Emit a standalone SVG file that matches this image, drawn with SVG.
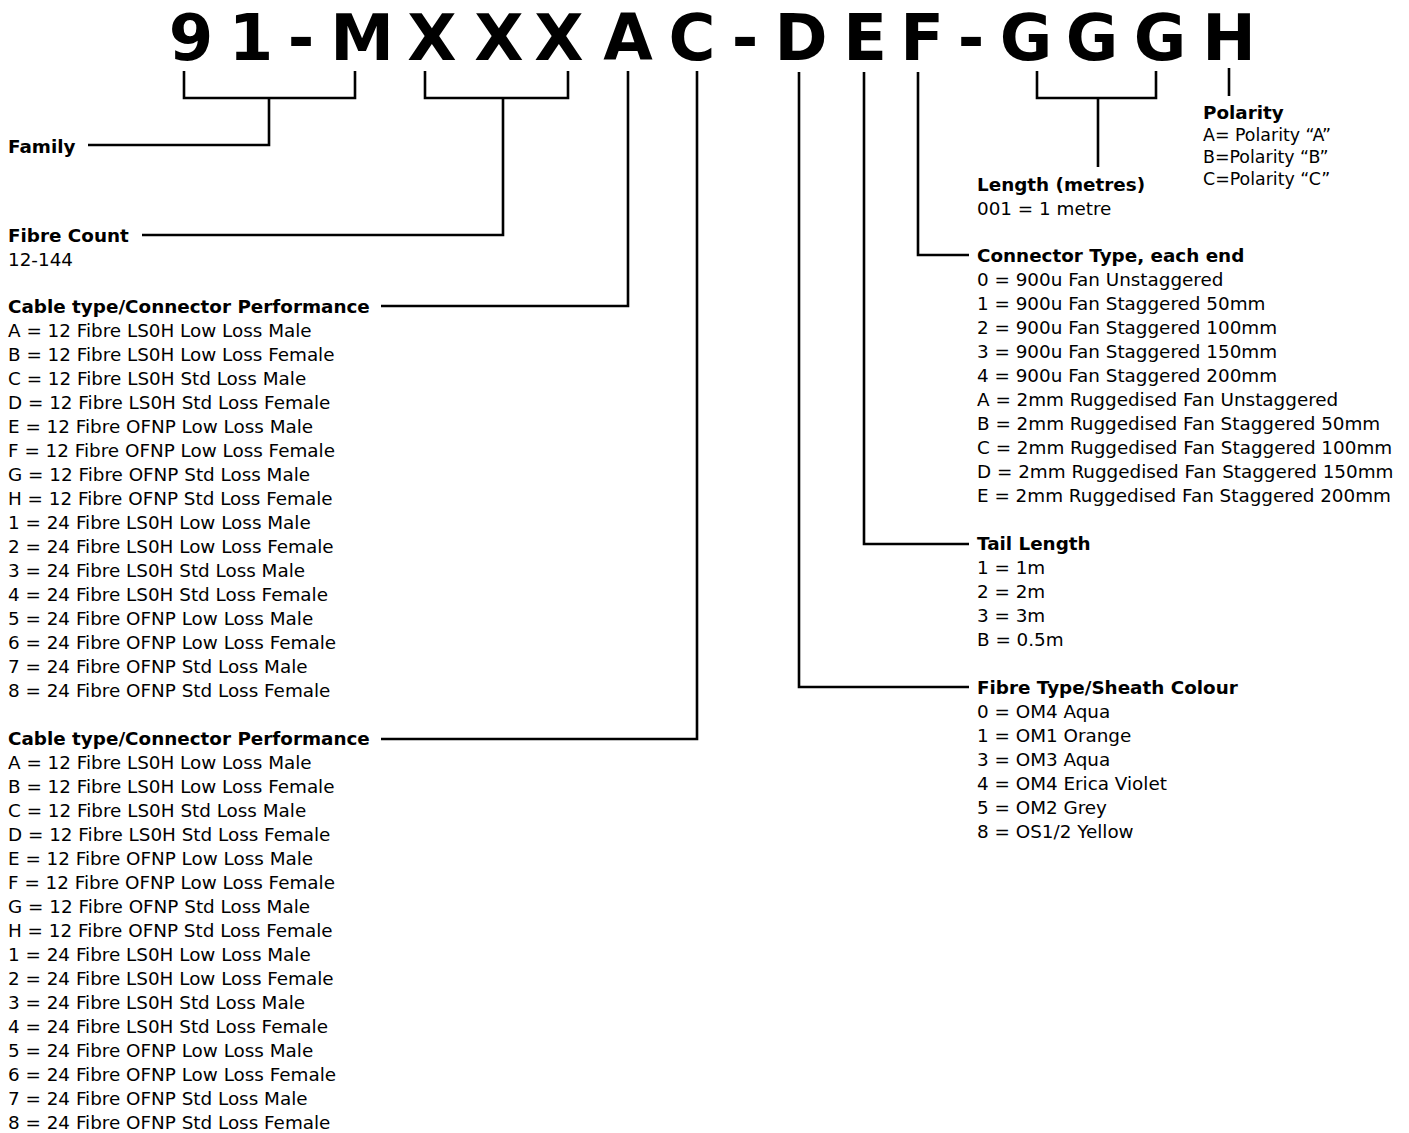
<svg xmlns="http://www.w3.org/2000/svg" width="1409" height="1133" viewBox="0 0 1409 1133">
<style>
text{font-family:"DejaVu Sans","Liberation Sans",sans-serif;font-size:18.35px;fill:#000}
.b{font-weight:bold}
.title{font-weight:bold;font-size:64px}
.pol{font-size:17.4px}
.c{fill:none;stroke:#000;stroke-width:2.6}
</style>
<rect width="1409" height="1133" fill="#fff"/>
<g id="code">
<text class="title" y="60" text-anchor="middle" x="191 251 301 362 432 499 559 628 692 745 801 865 922 971 1026 1092 1160 1229">91-MXXXAC-DEF-GGGH</text>
</g>
<g id="connectors">
<path class="c" d="M184,71V98H355V71M269,98V145H88"/>
<path class="c" d="M425,71V98H568V71M503,98V235H142"/>
<path class="c" d="M628,71V306H381"/>
<path class="c" d="M697,71V739H381"/>
<path class="c" d="M799,72V687H969"/>
<path class="c" d="M864,72V544H969"/>
<path class="c" d="M918,72V255H969"/>
<path class="c" d="M1037,71V98H1156V71M1098,98V167"/>
<path class="c" d="M1229,68V96"/>
</g>
<g id="family">
<text class="b" x="8" y="153">Family</text>
</g>
<g id="fibre-count">
<text class="b" x="8" y="242">Fibre Count</text>
<text x="8" y="266">12-144</text>
</g>
<g id="cable-type-1">
<text class="b" x="8" y="313">Cable type/Connector Performance</text>
<text x="8" y="313">
<tspan x="8" dy="24">A = 12 Fibre LS0H Low Loss Male</tspan>
<tspan x="8" dy="24">B = 12 Fibre LS0H Low Loss Female</tspan>
<tspan x="8" dy="24">C = 12 Fibre LS0H Std Loss Male</tspan>
<tspan x="8" dy="24">D = 12 Fibre LS0H Std Loss Female</tspan>
<tspan x="8" dy="24">E = 12 Fibre OFNP Low Loss Male</tspan>
<tspan x="8" dy="24">F = 12 Fibre OFNP Low Loss Female</tspan>
<tspan x="8" dy="24">G = 12 Fibre OFNP Std Loss Male</tspan>
<tspan x="8" dy="24">H = 12 Fibre OFNP Std Loss Female</tspan>
<tspan x="8" dy="24">1 = 24 Fibre LS0H Low Loss Male</tspan>
<tspan x="8" dy="24">2 = 24 Fibre LS0H Low Loss Female</tspan>
<tspan x="8" dy="24">3 = 24 Fibre LS0H Std Loss Male</tspan>
<tspan x="8" dy="24">4 = 24 Fibre LS0H Std Loss Female</tspan>
<tspan x="8" dy="24">5 = 24 Fibre OFNP Low Loss Male</tspan>
<tspan x="8" dy="24">6 = 24 Fibre OFNP Low Loss Female</tspan>
<tspan x="8" dy="24">7 = 24 Fibre OFNP Std Loss Male</tspan>
<tspan x="8" dy="24">8 = 24 Fibre OFNP Std Loss Female</tspan>
</text>
</g>
<g id="cable-type-2">
<text class="b" x="8" y="745">Cable type/Connector Performance</text>
<text x="8" y="745">
<tspan x="8" dy="24">A = 12 Fibre LS0H Low Loss Male</tspan>
<tspan x="8" dy="24">B = 12 Fibre LS0H Low Loss Female</tspan>
<tspan x="8" dy="24">C = 12 Fibre LS0H Std Loss Male</tspan>
<tspan x="8" dy="24">D = 12 Fibre LS0H Std Loss Female</tspan>
<tspan x="8" dy="24">E = 12 Fibre OFNP Low Loss Male</tspan>
<tspan x="8" dy="24">F = 12 Fibre OFNP Low Loss Female</tspan>
<tspan x="8" dy="24">G = 12 Fibre OFNP Std Loss Male</tspan>
<tspan x="8" dy="24">H = 12 Fibre OFNP Std Loss Female</tspan>
<tspan x="8" dy="24">1 = 24 Fibre LS0H Low Loss Male</tspan>
<tspan x="8" dy="24">2 = 24 Fibre LS0H Low Loss Female</tspan>
<tspan x="8" dy="24">3 = 24 Fibre LS0H Std Loss Male</tspan>
<tspan x="8" dy="24">4 = 24 Fibre LS0H Std Loss Female</tspan>
<tspan x="8" dy="24">5 = 24 Fibre OFNP Low Loss Male</tspan>
<tspan x="8" dy="24">6 = 24 Fibre OFNP Low Loss Female</tspan>
<tspan x="8" dy="24">7 = 24 Fibre OFNP Std Loss Male</tspan>
<tspan x="8" dy="24">8 = 24 Fibre OFNP Std Loss Female</tspan>
</text>
</g>
<g id="polarity">
<text class="b" x="1203" y="119">Polarity</text>
<text class="pol" x="1203" y="141">A= Polarity “A”</text>
<text class="pol" x="1203" y="163">B=Polarity “B”</text>
<text class="pol" x="1203" y="185">C=Polarity “C”</text>
</g>
<g id="length">
<text class="b" x="977" y="191">Length (metres)</text>
<text x="977" y="215">001 = 1 metre</text>
</g>
<g id="connector-type">
<text class="b" x="977" y="262">Connector Type, each end</text>
<text x="977" y="262">
<tspan x="977" dy="24">0 = 900u Fan Unstaggered</tspan>
<tspan x="977" dy="24">1 = 900u Fan Staggered 50mm</tspan>
<tspan x="977" dy="24">2 = 900u Fan Staggered 100mm</tspan>
<tspan x="977" dy="24">3 = 900u Fan Staggered 150mm</tspan>
<tspan x="977" dy="24">4 = 900u Fan Staggered 200mm</tspan>
<tspan x="977" dy="24">A = 2mm Ruggedised Fan Unstaggered</tspan>
<tspan x="977" dy="24">B = 2mm Ruggedised Fan Staggered 50mm</tspan>
<tspan x="977" dy="24">C = 2mm Ruggedised Fan Staggered 100mm</tspan>
<tspan x="977" dy="24">D = 2mm Ruggedised Fan Staggered 150mm</tspan>
<tspan x="977" dy="24">E = 2mm Ruggedised Fan Staggered 200mm</tspan>
</text>
</g>
<g id="tail-length">
<text class="b" x="977" y="550">Tail Length</text>
<text x="977" y="550">
<tspan x="977" dy="24">1 = 1m</tspan>
<tspan x="977" dy="24">2 = 2m</tspan>
<tspan x="977" dy="24">3 = 3m</tspan>
<tspan x="977" dy="24">B = 0.5m</tspan>
</text>
</g>
<g id="fibre-type">
<text class="b" x="977" y="694">Fibre Type/Sheath Colour</text>
<text x="977" y="694">
<tspan x="977" dy="24">0 = OM4 Aqua</tspan>
<tspan x="977" dy="24">1 = OM1 Orange</tspan>
<tspan x="977" dy="24">3 = OM3 Aqua</tspan>
<tspan x="977" dy="24">4 = OM4 Erica Violet</tspan>
<tspan x="977" dy="24">5 = OM2 Grey</tspan>
<tspan x="977" dy="24">8 = OS1/2 Yellow</tspan>
</text>
</g>
</svg>
